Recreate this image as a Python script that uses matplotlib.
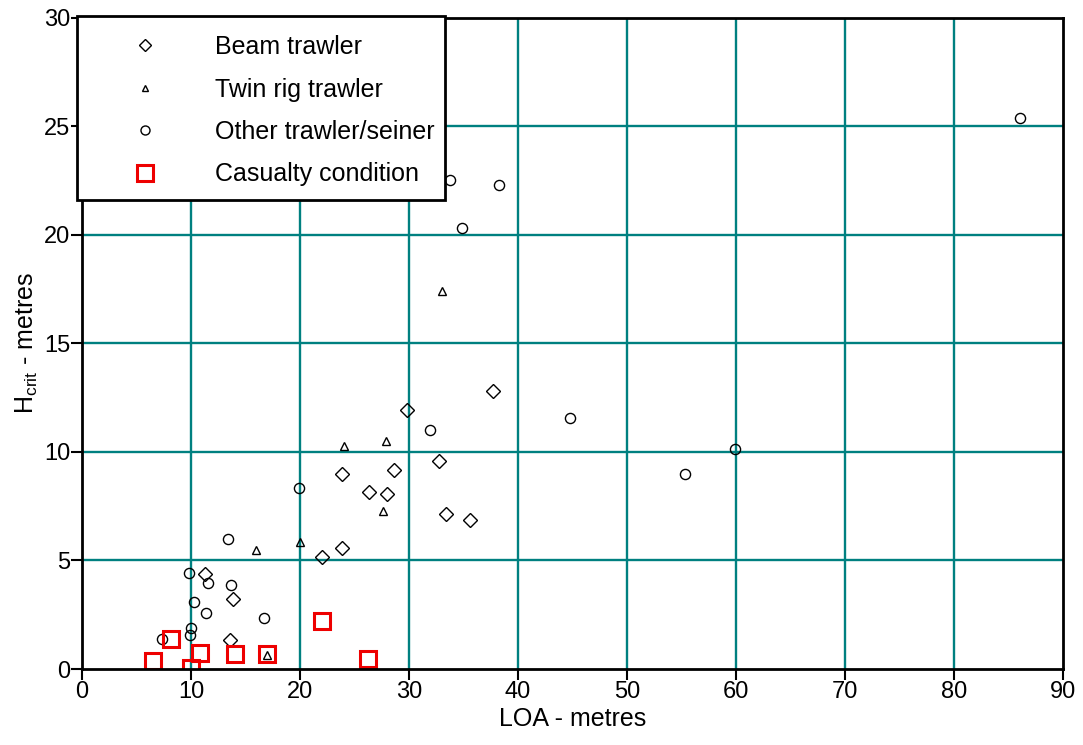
import matplotlib
matplotlib.use("Agg")
import matplotlib.pyplot as plt
from matplotlib.lines import Line2D
from matplotlib.patches import Rectangle

plt.rcParams['font.family'] = ['Liberation Sans', 'DejaVu Sans']
plt.rcParams['mathtext.fontset'] = 'custom'
plt.rcParams['mathtext.rm'] = 'Liberation Sans'
plt.rcParams['mathtext.it'] = 'Liberation Sans:italic'

beam_x = [37.7, 29.8, 32.75, 23.9, 28.6, 26.3, 28.0, 33.4, 35.6, 22.0, 23.9, 11.3, 13.9, 13.6]
beam_y = [12.8, 11.92, 9.57, 9.0, 9.15, 8.14, 8.07, 7.13, 6.86, 5.15, 5.57, 4.38, 3.21, 1.35]

twin_x = [33.0, 24.0, 27.9, 27.6, 16.0, 20.0, 17.0]
twin_y = [17.4, 10.27, 10.5, 7.27, 5.49, 5.83, 0.65]

other_x = [86.1, 33.8, 38.3, 34.9, 31.9, 44.8, 59.9, 55.3, 19.9, 13.4, 9.8, 11.6, 13.66,
           10.3, 11.34, 16.7, 10.0, 9.94, 7.3]
other_y = [25.4, 22.55, 22.3, 20.3, 11.0, 11.55, 10.13, 9.0, 8.32, 6.0, 4.41, 3.98, 3.89,
           3.09, 2.6, 2.34, 1.89, 1.55, 1.37]

cas_x = [6.5, 8.2, 10.0, 10.8, 14.05, 17.0, 22.0, 26.25]
cas_y = [0.35, 1.37, 0.05, 0.72, 0.67, 0.67, 2.2, 0.46]

labels = ["Beam trawler", "Twin rig trawler", "Other trawler/seiner", "Casualty condition"]
xticks = list(range(0, 91, 10))
yticks = list(range(0, 31, 5))

W, H = 1083, 745
fig = plt.figure(figsize=(W / 100, H / 100), dpi=100)
ax = fig.add_axes([0.0757, 0.102, 0.9058, 0.874])

grid_c = '#008080'
for v in xticks[1:-1]:
    ax.axvline(v, color=grid_c, lw=1.7, zorder=1)
for v in yticks[1:-1]:
    ax.axhline(v, color=grid_c, lw=1.7, zorder=1)

ax.plot(beam_x, beam_y, ls='none', marker='D', ms=6.8, mfc='none', mec='black', mew=1.0, zorder=3)
ax.plot(twin_x, twin_y, ls='none', marker='^', ms=6.3, mfc='none', mec='black', mew=1.0, zorder=3)
ax.plot(other_x, other_y, ls='none', marker='o', ms=7.3, mfc='none', mec='black', mew=1.0, zorder=3)
ax.plot(cas_x, cas_y, ls='none', marker='s', ms=11.5, mfc='none', mec='#ee0000', mew=2.2, zorder=4)

ax.set_xlim(0, 90)
ax.set_ylim(0, 30)
ax.set_xticks(xticks)
ax.set_yticks(yticks)
ax.tick_params(direction='out', length=8, width=1.5, labelsize=17, colors='black', pad=0.5)
for s in ax.spines.values():
    s.set_linewidth(2)
    s.set_zorder(5)

ax.set_xlabel('LOA - metres', fontsize=18, labelpad=3)
ax.set_ylabel(r'H$_{\mathrm{crit}}$ - metres', fontsize=18, labelpad=3)

# legend frame drawn as a separate box
box = Rectangle((77 / W, 1 - 200 / H), (445 - 77) / W, (200 - 16) / H,
                transform=fig.transFigure, facecolor='white', edgecolor='black',
                lw=2, zorder=9, clip_on=False)
ax.add_patch(box)

handles = [
    Line2D([], [], ls='none', marker='D', ms=6.5, mfc='none', mec='black', mew=1.0),
    Line2D([], [], ls='none', marker='^', ms=5, mfc='none', mec='black', mew=1.0),
    Line2D([], [], ls='none', marker='o', ms=6.5, mfc='none', mec='black', mew=1.0),
    Line2D([], [], ls='none', marker='s', ms=11.5, mfc='none', mec='#ee0000', mew=2.2),
]
leg = ax.legend(handles, labels, loc='upper left',
                bbox_to_anchor=(89 / W, 1 - 35 / H), bbox_transform=fig.transFigure,
                fontsize=18, frameon=False, borderpad=0, labelspacing=0.74,
                handlelength=4.5, handletextpad=0.54, borderaxespad=0)
leg.set_zorder(10)

fig.savefig('out.png', dpi=100)
